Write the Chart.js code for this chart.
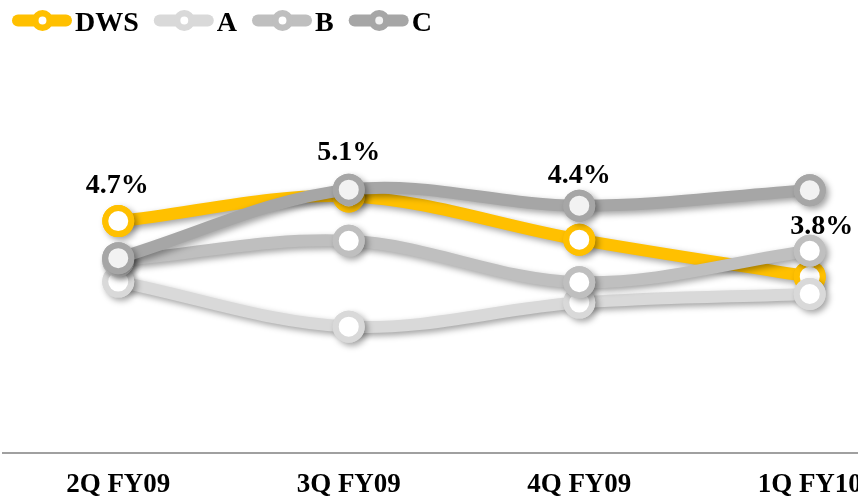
<!DOCTYPE html>
<html>
<head>
<meta charset="utf-8">
<script src="https://cdn.jsdelivr.net/npm/chart.js@4/dist/chart.umd.min.js"></script>
<style>
  html, body { margin: 0; padding: 0; background: #fff; }
  #wrap { width: 858px; height: 500px; overflow: hidden; position: relative; background: #fff; }
  canvas { display: block; }
</style>
</head>
<body>
<div id="wrap"><canvas id="chart" width="930" height="517"></canvas></div>
<script>
// Quarterly figures (%)
const quarters = ['2Q FY09', '3Q FY09', '4Q FY09', '1Q FY10'];
const dws   = [4.7, 5.1, 4.4, 3.8];
const peerA = [3.72, 2.99, 3.38, 3.52];
const peerB = [4.06, 4.38, 3.71, 4.22];
const peerC = [4.10, 5.21, 4.95, 5.20];
const seriesNames = ['DWS', 'A', 'B', 'C'];

// Styling
const colors = ['#FFC000', '#D9D9D9', '#BFBFBF', '#A6A6A6'];
const markerFill = ['#FFFFFF', '#FFFFFF', '#FFFFFF', '#F2F2F2'];
const SERIF = "'Liberation Serif', 'Times New Roman', serif";
const SHADOW = { color: 'rgba(0,0,0,0.36)', blur: 6, dx: 3, dy: 3 };
// nudges for the DWS value labels, relative to each point (px)
const labelNudge = [{ dx: -1, dy: -35 }, { dx: 0, dy: -44 }, { dx: 0, dy: -64 }, { dx: 12, dy: -50 }];

function series(i, data, order) {
  return {
    label: seriesNames[i],
    data: data,
    order: order,
    borderColor: colors[i],
    backgroundColor: colors[i],
    borderWidth: 12,
    tension: 0.35,
    pointRadius: 13,
    pointHoverRadius: 13,
    pointBorderWidth: 6,
    pointBorderColor: colors[i],
    pointBackgroundColor: markerFill[i],
    borderCapStyle: 'round',
    borderJoinStyle: 'round'
  };
}

// Markers: cast the shadow from a solid disc first, then draw the marker itself
// without shadow so its white centre stays clean.
const basePointDraw = Chart.PointElement.prototype.draw;
Chart.PointElement.prototype.draw = function (ctx, area) {
  const o = this.options;
  if (!this.skip && o.radius > 0) {
    ctx.save();
    ctx.beginPath();
    ctx.arc(this.x, this.y, o.radius + o.borderWidth / 2, 0, Math.PI * 2);
    ctx.fillStyle = o.borderColor;
    ctx.fill();
    ctx.restore();
  }
  ctx.save();
  ctx.shadowColor = 'rgba(0,0,0,0)';
  ctx.shadowBlur = 0;
  ctx.shadowOffsetX = 0;
  ctx.shadowOffsetY = 0;
  basePointDraw.call(this, ctx, area);
  ctx.restore();
};

// soft drop shadow under every line and marker
const shadowPlugin = {
  id: 'shadow',
  beforeDatasetDraw(chart) {
    const ctx = chart.ctx;
    ctx.save();
    ctx.shadowColor = SHADOW.color;
    ctx.shadowBlur = SHADOW.blur;
    ctx.shadowOffsetX = SHADOW.dx;
    ctx.shadowOffsetY = SHADOW.dy;
  },
  afterDatasetDraw(chart) {
    chart.ctx.restore();
  }
};

// value labels over the DWS series
const valueLabels = {
  id: 'valueLabels',
  afterDatasetsDraw(chart) {
    const ctx = chart.ctx;
    const idx = chart.data.datasets.findIndex(d => d.label === 'DWS');
    const meta = chart.getDatasetMeta(idx);
    ctx.save();
    ctx.font = 'bold 28px ' + SERIF;
    ctx.fillStyle = '#000';
    ctx.textAlign = 'center';
    ctx.textBaseline = 'middle';
    meta.data.forEach((pt, i) => {
      const n = labelNudge[i] || { dx: 0, dy: -38 };
      ctx.fillText(dws[i].toFixed(1) + '%', pt.x + n.dx, pt.y + n.dy);
    });
    ctx.restore();
  }
};

// legend row across the top
const topLegend = {
  id: 'topLegend',
  afterDraw(chart) {
    const ctx = chart.ctx;
    const cy = 20.5;
    let x = 12;
    ctx.save();
    ctx.font = 'bold 28px ' + SERIF;
    ctx.textBaseline = 'alphabetic';
    ctx.textAlign = 'left';
    seriesNames.forEach((name, i) => {
      ctx.strokeStyle = colors[i];
      ctx.lineCap = 'round';
      ctx.lineWidth = 12;
      ctx.beginPath();
      ctx.moveTo(x + 6, cy);
      ctx.lineTo(x + 54, cy);
      ctx.stroke();
      ctx.beginPath();
      ctx.arc(x + 30.5, cy, 7.2, 0, Math.PI * 2);
      ctx.fillStyle = markerFill[i];
      ctx.fill();
      ctx.lineWidth = 6.5;
      ctx.stroke();
      ctx.fillStyle = '#000';
      ctx.fillText(name, x + 63, 30.7);
      x += 63 + ctx.measureText(name).width + 15;
    });
    ctx.restore();
  }
};

new Chart(document.getElementById('chart'), {
  type: 'line',
  data: {
    labels: quarters,
    datasets: [
      series(0, dws, 3),
      series(1, peerA, 2),
      series(2, peerB, 1),
      series(3, peerC, 0)
    ]
  },
  plugins: [shadowPlugin, valueLabels, topLegend],
  options: {
    responsive: false,
    animation: false,
    devicePixelRatio: 1,
    layout: { autoPadding: false, padding: { top: 110, left: 3, right: 5, bottom: 0 } },
    plugins: {
      legend: { display: false },
      tooltip: { enabled: false },
      title: { display: false }
    },
    scales: {
      x: {
        offset: true,
        grid: { display: false, drawTicks: false },
        border: { display: true, color: '#A0A0A0', width: 2 },
        ticks: {
          color: '#000',
          font: { family: SERIF, size: 27, weight: 'bold', lineHeight: 1.2 },
          padding: 16,
          autoSkip: false,
          maxRotation: 0,
          minRotation: 0
        }
      },
      y: {
        display: false,
        min: 0.95,
        max: 6.5
      }
    }
  }
});
</script>
</body>
</html>
